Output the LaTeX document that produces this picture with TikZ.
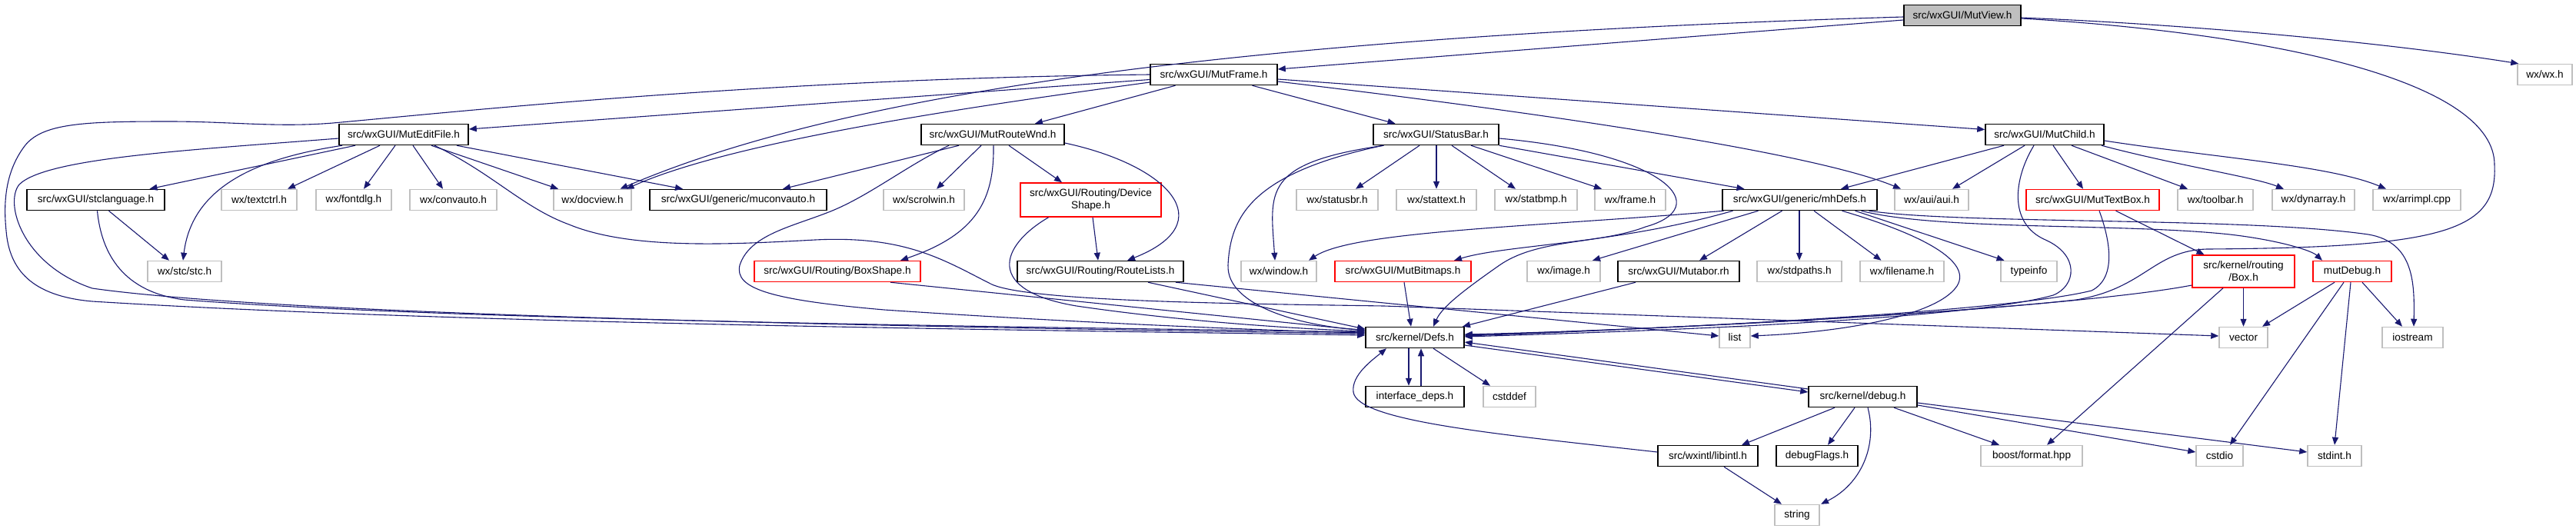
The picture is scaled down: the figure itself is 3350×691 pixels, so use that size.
\documentclass[tikz,border=0pt]{standalone}
\usepackage{fontspec}
\setmainfont{Liberation Sans}
\usetikzlibrary{arrows.meta}
\definecolor{edgeblue}{HTML}{191970}
\definecolor{extgray}{HTML}{BFBFBF}
\tikzset{
  hdrbox/.style={draw=black, line width=1.5pt, minimum height=27pt, inner sep=2pt, align=center,
    font=\fontsize{13.6pt}{16pt}\selectfont},
  sysbox/.style={hdrbox, draw=extgray},
  cutbox/.style={hdrbox, draw=red},
  rootbox/.style={hdrbox, fill=extgray},
  dep/.style={draw=edgeblue, line width=1.1pt, -{Triangle[length=10pt,width=8pt]}}
}

\begin{document}
\begin{tikzpicture}[x=1pt,y=-1pt]
\useasboundingbox (0,0) rectangle (3350,691);
\node[rootbox, minimum width=152pt] (view) at (2552,20) {src/wxGUI/MutView.h};
\node[hdrbox, minimum width=165pt] (mutframe) at (1578.5,97) {src/wxGUI/MutFrame.h};
\node[sysbox, minimum width=71pt] (wxwx) at (3309.5,97) {wx/wx.h};
\node[hdrbox, minimum width=168pt] (editfile) at (525,175) {src/wxGUI/MutEditFile.h};
\node[hdrbox, minimum width=186pt] (routewnd) at (1291,175) {src/wxGUI/MutRouteWnd.h};
\node[hdrbox, minimum width=163pt] (statusbar) at (1867.5,175) {src/wxGUI/StatusBar.h};
\node[hdrbox, minimum width=154pt] (child) at (2659,175) {src/wxGUI/MutChild.h};

\node[hdrbox, minimum width=179pt] (stclang) at (124.5,260) {src/wxGUI/stclanguage.h};
\node[hdrbox, minimum width=230pt] (muconv) at (960,260) {src/wxGUI/generic/muconvauto.h};
\node[cutbox, minimum width=183pt, minimum height=44pt] (devshape) at (1418.5,260) {src/wxGUI/Routing/Device\\Shape.h};
\node[hdrbox, minimum width=201pt] (mhdefs) at (2340.5,260) {src/wxGUI/generic/mhDefs.h};
\node[cutbox, minimum width=173pt] (textbox) at (2721.5,260) {src/wxGUI/MutTextBox.h};
\foreach \nm/\x/\w/\txt in {textctrl/337/98/{wx/textctrl.h}, fontdlg/460/98/{wx/fontdlg.h},
  convauto/589.5/113/{wx/convauto.h}, docview/770.5/101/{wx/docview.h}, scrolwin/1201.5/105/{wx/scrolwin.h},
  statusbr/1739/106/{wx/statusbr.h}, stattext/1868/104/{wx/stattext.h}, statbmp/1997.5/107/{wx/statbmp.h},
  wxframe/2120/92/{wx/frame.h}, aui/2512/96/{wx/aui/aui.h}, toolbar/2881/98/{wx/toolbar.h},
  dynarray/3008.5/107/{wx/dynarray.h}, arrimpl/3143/114/{wx/arrimpl.cpp}}
  \node[sysbox, minimum width=\w pt] (\nm) at (\x,260) {\txt};

\node[cutbox, minimum width=216pt] (boxshape) at (1089,353) {src/wxGUI/Routing/BoxShape.h};
\node[hdrbox, minimum width=216pt] (routelists) at (1431,353) {src/wxGUI/Routing/RouteLists.h};
\node[cutbox, minimum width=177pt] (bitmaps) at (1824.5,353) {src/wxGUI/MutBitmaps.h};
\node[hdrbox, minimum width=158pt] (mutaborrh) at (2183,353) {src/wxGUI/Mutabor.rh};
\node[cutbox, minimum width=133pt, minimum height=42pt] (boxh) at (2917.5,353) {src/kernel/routing\\/Box.h};
\node[cutbox, minimum width=102pt] (mutdebug) at (3059,353) {mutDebug.h};
\foreach \nm/\x/\w/\txt in {stc/240/96/{wx/stc/stc.h}, window/1663/98/{wx/window.h}, image/2033.5/95/{wx/image.h},
  stdpaths/2340/110/{wx/stdpaths.h}, filename/2473.5/109/{wx/filename.h}, typeinfo/2638.5/73/{typeinfo}}
  \node[sysbox, minimum width=\w pt] (\nm) at (\x,353) {\txt};

\node[hdrbox, minimum width=128pt] (defs) at (1840,439) {src/kernel/Defs.h};
\node[sysbox, minimum width=40pt] (list) at (2256,439) {list};
\node[sysbox, minimum width=63pt] (vector) at (2917.5,439) {vector};
\node[sysbox, minimum width=79pt] (iostream) at (3137.5,439) {iostream};

\node[hdrbox, minimum width=128pt] (ideps) at (1840,516) {interface\_deps.h};
\node[sysbox, minimum width=68pt] (cstddef) at (1963,516) {cstddef};
\node[hdrbox, minimum width=141pt] (debug) at (2422.5,516) {src/kernel/debug.h};

\node[hdrbox, minimum width=130pt] (libintl) at (2221,593) {src/wxintl/libintl.h};
\node[hdrbox, minimum width=106pt] (debugflags) at (2363,593) {debugFlags.h};
\node[sysbox, minimum width=132pt] (boost) at (2642,593) {boost/format.hpp};
\node[sysbox, minimum width=61pt] (cstdio) at (2886.5,593) {cstdio};
\node[sysbox, minimum width=70pt] (stdint) at (3036,593) {stdint.h};
\node[sysbox, minimum width=58pt] (string) at (2337,670) {string};

\draw[dep] ([yshift=-6pt]view.west) -- ([yshift=7pt]mutframe.east);
\draw[dep] ([yshift=-3pt]view.east) .. controls (2850,32) and (3100,55) .. ([xshift=2pt]wxwx.north west);
\draw[dep] ([yshift=-2pt]view.west) .. controls (1569,49) and (1083,127) .. ([xshift=36pt]docview.north);
\draw[dep] ([yshift=-4pt]view.east) .. controls (2980,45) and (3245,110) .. (3244,215)
  .. controls (3248,300) and (3180,322) .. (2870,324) .. controls (2800,326) and (2790,375) .. (2700,390)
  .. controls (2500,412) and (2100,430) .. ([yshift=3pt]defs.east);

\draw[dep] (mutframe.west) .. controls (1000,102) and (600,145) .. (433,160)
  .. controls (360,166) and (300,158) .. (220,158) .. controls (110,158) and (55,160) .. (32,190)
  .. controls (8,222) and (4,260) .. (8,300) .. controls (12,350) and (40,385) .. (120,392)
  .. controls (600,422) and (1400,430) .. ([yshift=3pt]defs.west);
\draw[dep] ([yshift=-6.5pt]mutframe.west) -- ([yshift=7pt]editfile.east);
\draw[dep] ([yshift=-10pt]mutframe.west) .. controls (1250,140) and (950,185) .. ([xshift=44pt]docview.north);
\draw[dep] ([xshift=-50pt]mutframe.south) -- ([xshift=55pt]routewnd.north);
\draw[dep] ([xshift=50pt]mutframe.south) -- ([xshift=-53pt]statusbar.north);
\draw[dep] ([yshift=-6pt]mutframe.east) -- ([yshift=6.5pt]child.west);
\draw[dep] ([yshift=-9pt]mutframe.east) .. controls (1950,140) and (2350,195) .. ([xshift=-40pt]aui.north);

\draw[dep] ([yshift=-5pt]editfile.west) .. controls (250,195) and (60,205) .. (25,240)
  .. controls (5,265) and (30,345) .. (120,375) .. controls (400,415) and (1400,428) .. ([yshift=5pt]defs.west);
\draw[dep] ([xshift=-63pt]editfile.south) -- ([xshift=70pt]stclang.north);
\draw[dep] ([xshift=-80pt]editfile.south) .. controls (340,205) and (250,240) .. ([xshift=-2pt]stc.north);
\draw[dep] ([xshift=-31pt]editfile.south) -- ([xshift=37pt]textctrl.north);
\draw[dep] ([xshift=-11pt]editfile.south) -- ([xshift=13pt]fontdlg.north);
\draw[dep] ([xshift=12pt]editfile.south) -- ([xshift=-13.5pt]convauto.north);
\draw[dep] ([xshift=36pt]editfile.south) -- ([xshift=-44.5pt]docview.north);
\draw[dep] ([xshift=69pt]editfile.south) -- ([xshift=-72pt]muconv.north);
\draw[dep] ([xshift=40pt]editfile.south) .. controls (640,225) and (680,270) .. (740,292)
  .. controls (820,325) and (950,318) .. (1060,312) .. controls (1180,306) and (1230,340) .. (1290,370)
  .. controls (1340,392) and (1600,395) .. (1800,398) -- ([yshift=2pt]vector.west);

\draw[dep] ([xshift=17pt]stclang.south) -- ([xshift=-20pt]stc.north);
\draw[dep] ([xshift=2pt]stclang.south) .. controls (132,330) and (160,380) .. (240,390)
  .. controls (600,418) and (1400,426) .. ([yshift=7pt]defs.west);

\draw[dep] ([xshift=-44pt]routewnd.south) -- ([xshift=58pt]muconv.north);
\draw[dep] ([xshift=-57pt]routewnd.south) .. controls (1180,215) and (1130,255) .. (1080,275)
  .. controls (1030,295) and (975,305) .. (962,345) .. controls (955,375) and (1000,390) .. (1150,403)
  .. controls (1400,420) and (1650,430) .. ([yshift=6pt]defs.west);
\draw[dep] ([xshift=-15pt]routewnd.south) -- ([xshift=16.5pt]scrolwin.north);
\draw[dep] ([xshift=1pt]routewnd.south) .. controls (1293,260) and (1270,305) .. ([xshift=82pt]boxshape.north);
\draw[dep] ([xshift=21pt]routewnd.south) -- ([xshift=-37.5pt]devshape.north);
\draw[dep] ([yshift=-11pt]routewnd.east) .. controls (1520,215) and (1590,290) .. ([xshift=35pt]routelists.north);

\draw[dep] ([xshift=2.5pt]devshape.south) -- ([xshift=-3pt]routelists.north);
\draw[dep] ([xshift=-55pt]devshape.south) .. controls (1300,320) and (1280,378) .. (1400,398)
  .. controls (1550,420) and (1700,428) .. ([yshift=8pt]defs.west);
\draw[dep] ([xshift=69pt]boxshape.south) -- ([yshift=9pt]defs.west);
\draw[dep] ([xshift=62pt]routelists.south) -- ([yshift=11pt]defs.west);
\draw[dep] ([xshift=98pt]routelists.south) -- ([yshift=2pt]list.west);

\draw[dep] ([xshift=-21.5pt]statusbar.south) -- ([xshift=24pt]statusbr.north);
\draw[dep] ([xshift=0.5pt]statusbar.south) -- (stattext.north);
\draw[dep] ([xshift=20.5pt]statusbar.south) -- ([xshift=-26.5pt]statbmp.north);
\draw[dep] ([xshift=45.5pt]statusbar.south) -- ([xshift=-37pt]wxframe.north);
\draw[dep] (statusbar.south east) -- ([xshift=-72pt]mhdefs.north);
\draw[dep] ([xshift=-68pt]statusbar.south) .. controls (1640,212) and (1652,250) .. ([xshift=-5pt]window.north);
\draw[dep] ([xshift=-69pt]statusbar.south) .. controls (1630,225) and (1600,280) .. (1597,345)
  .. controls (1595,400) and (1700,425) .. ([yshift=10pt]defs.west);
\draw[dep] ([yshift=-5pt]statusbar.east) .. controls (2170,200) and (2230,270) .. (2140,295)
  .. controls (2080,318) and (2000,310) .. (1950,345) .. controls (1900,380) and (1875,400) .. ([xshift=24pt]defs.north);

\draw[dep] ([xshift=-87pt]mhdefs.south) .. controls (2100,318) and (1960,318) .. ([xshift=66.5pt]bitmaps.north);
\draw[dep] ([xshift=-99pt]mhdefs.south) .. controls (2000,295) and (1760,300) .. ([xshift=39pt]window.north);
\draw[dep] ([xshift=-54pt]mhdefs.south) -- ([xshift=37.5pt]image.north);
\draw[dep] ([xshift=-23pt]mhdefs.south) -- ([xshift=27pt]mutaborrh.north);
\draw[dep] ([xshift=-0.5pt]mhdefs.south) -- (stdpaths.north);
\draw[dep] ([xshift=18.5pt]mhdefs.south) -- ([xshift=-27pt]filename.north);
\draw[dep] ([xshift=72pt]mhdefs.south) -- ([xshift=-32pt]typeinfo.north);
\draw[dep] ([xshift=55pt]mhdefs.south) .. controls (2500,305) and (2565,340) .. (2545,372)
  .. controls (2520,410) and (2400,432) .. ([yshift=2pt]list.east);
\draw[dep] ([xshift=80pt]mhdefs.south) .. controls (2520,300) and (2760,290) .. (2900,305)
  .. controls (2960,312) and (3005,325) .. ([xshift=-39pt]mutdebug.north);
\draw[dep] ([xshift=90pt]mhdefs.south) .. controls (2550,292) and (2920,282) .. (3080,305)
  .. controls (3140,315) and (3140,370) .. ([xshift=1.5pt]iostream.north);

\draw[dep] ([xshift=-53pt]child.south) -- ([xshift=53.5pt]mhdefs.north);
\draw[dep] ([xshift=-26pt]child.south) -- ([xshift=27pt]aui.north);
\draw[dep] ([xshift=-14pt]child.south) .. controls (2620,230) and (2610,290) .. (2660,312)
  .. controls (2705,332) and (2700,372) .. (2670,384) .. controls (2550,418) and (2100,432) .. ([yshift=1pt]defs.east);
\draw[dep] ([xshift=11pt]child.south) -- ([xshift=-12.5pt]textbox.north);
\draw[dep] ([xshift=35pt]child.south) -- ([xshift=-36pt]toolbar.north);
\draw[dep] ([xshift=74pt]child.south) .. controls (2830,215) and (2930,230) .. ([xshift=-38.5pt]dynarray.north);
\draw[dep] ([yshift=-8pt]child.east) .. controls (2880,205) and (3030,215) .. ([xshift=-40pt]arrimpl.north);

\draw[dep] ([xshift=30pt]textbox.south) -- ([xshift=-51pt]boxh.north);
\draw[dep] ([xshift=8.5pt]textbox.south) .. controls (2745,315) and (2752,362) .. (2720,378)
  .. controls (2600,408) and (2100,430) .. ([yshift=2pt]defs.east);
\draw[dep] ([yshift=-18pt]boxh.west) .. controls (2700,400) and (2200,428) .. ([yshift=4pt]defs.east);
\draw[dep] (boxh.south) -- (vector.north);
\draw[dep] ([xshift=-26.5pt]boxh.south) -- ([xshift=20pt]boost.north);

\draw[dep] ([xshift=-23pt]mutdebug.south) -- ([xshift=24.5pt]vector.north);
\draw[dep] ([xshift=-11pt]mutdebug.south) -- ([xshift=13.5pt]cstdio.north);
\draw[dep] ([xshift=-2pt]mutdebug.south) -- (stdint.north);
\draw[dep] ([xshift=13pt]mutdebug.south) -- ([xshift=-13.5pt]iostream.north);

\draw[dep] ([xshift=1.5pt]bitmaps.south) -- ([xshift=-5pt]defs.north);
\draw[dep] ([xshift=-56pt]mutaborrh.south) -- ([xshift=62pt]defs.north);

\draw[dep] ([xshift=-8pt]defs.south) -- ([xshift=-8pt]ideps.north);
\draw[dep] ([xshift=8pt]ideps.north) -- ([xshift=8pt]defs.south);
\draw[dep] ([xshift=24pt]defs.south) -- ([xshift=-25pt]cstddef.north);
\draw[dep] ([yshift=-10pt]defs.east) -- ([yshift=6pt]debug.west);
\draw[dep] ([yshift=10pt]debug.west) -- ([yshift=-6pt]defs.east);

\draw[dep] ([yshift=5pt]libintl.west) .. controls (1950,565) and (1765,548) .. (1760,510)
  .. controls (1757,488) and (1785,468) .. ([xshift=-37pt]defs.south);
\draw[dep] ([xshift=21pt]libintl.south) -- ([xshift=-20pt]string.north);

\draw[dep] ([xshift=-36.5pt]debug.south) -- ([xshift=44pt]libintl.north);
\draw[dep] ([xshift=-10.5pt]debug.south) -- ([xshift=14pt]debugflags.north);
\draw[dep] ([xshift=6.5pt]debug.south) .. controls (2442,580) and (2420,630) .. ([xshift=31pt]string.north);
\draw[dep] ([xshift=40.5pt]debug.south) -- ([xshift=-42pt]boost.north);
\draw[dep] ([yshift=-11pt]debug.east) -- ([yshift=5pt]cstdio.west);
\draw[dep] ([yshift=-8pt]debug.east) -- ([yshift=5pt]stdint.west);
\end{tikzpicture}
\end{document}
